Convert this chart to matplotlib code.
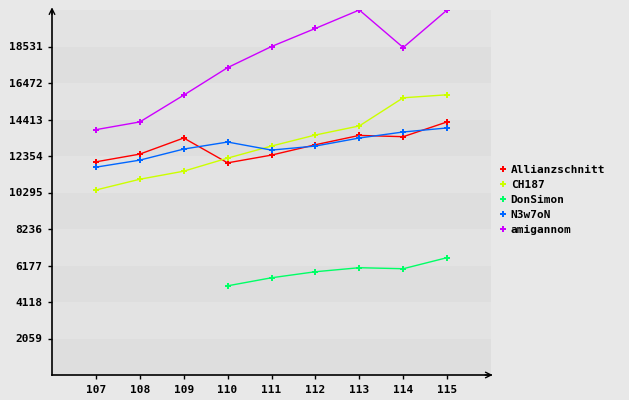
import matplotlib.pyplot as plt
from matplotlib.lines import Line2D

years = [107, 108, 109, 110, 111, 112, 113, 114, 115]
allianz = [12025, 12461, 13369, 11968, 12405, 12989, 13516, 13443, 14276]
ch187 = [10436, 11043, 11497, 12234, 12915, 13539, 14050, 15638, 15808]
donsimon_years = [110, 111, 112, 113, 114, 115]
donsimon = [5031, 5485, 5825, 6052, 5995, 6619]
n3w7on = [11724, 12121, 12745, 13142, 12688, 12915, 13369, 13709, 13936]
amigannom = [13840, 14276, 15786, 17339, 18530, 19551, 20590, 18474, 20590]

yticks = [2059, 4118, 6177, 8236, 10295, 12354, 14413, 16472, 18531]
ymax = 20590

series = [
    ("Allianzschnitt", years, allianz, "#ff0000"),
    ("CH187", years, ch187, "#ccff00"),
    ("DonSimon", donsimon_years, donsimon, "#00ff66"),
    ("N3w7oN", years, n3w7on, "#0066ff"),
    ("amigannom", years, amigannom, "#cc00ff"),
]

font = {'family': 'DejaVu Sans Mono', 'weight': 'bold', 'size': 8}

fig = plt.figure(figsize=(6.29, 4.00), dpi=100, facecolor="#e8e8e8")
ax = fig.add_axes([52 / 629, 25 / 400, 439 / 629, 365 / 400])
ax.set_facecolor("#e8e8e8")

# alternating bands
edges = [0] + yticks + [ymax]
for i in range(len(edges) - 1):
    c = "#dedede" if i % 2 == 0 else "#e3e3e3"
    ax.axhspan(edges[i], edges[i + 1], color=c, lw=0, zorder=0)

for name, xs, ys, col in series:
    ax.plot(xs, ys, color=col, lw=1, marker='P', markersize=5,
            markeredgewidth=0, zorder=3)

ax.set_xlim(106, 116)
ax.set_ylim(0, ymax)
ax.set_xticks(years)
ax.set_xticklabels([str(y) for y in years], fontdict=font)
ax.set_yticks(yticks)
ax.set_yticklabels([str(v) for v in yticks], fontdict=font)
ax.tick_params(length=3, width=1, color='black', pad=4)

for s in ['top', 'right']:
    ax.spines[s].set_visible(False)
for s in ['left', 'bottom']:
    ax.spines[s].set_color('black')
    ax.spines[s].set_linewidth(1.2)

# axis arrows
ax.annotate('', xy=(0, 1.015), xytext=(0, 0.98), xycoords='axes fraction',
            arrowprops=dict(arrowstyle='->', lw=1, color='black'))
ax.annotate('', xy=(1.01, 0), xytext=(0.98, 0), xycoords='axes fraction',
            arrowprops=dict(arrowstyle='->', lw=1, color='black'))

handles = [Line2D([], [], color=col, marker='P', markersize=5,
                  markeredgewidth=0, linestyle='none')
           for name, xs, ys, col in series]
labels = [name for name, xs, ys, col in series]
fig.legend(handles, labels, loc='upper left', bbox_to_anchor=(494 / 629, 1 - 159 / 400),
           frameon=False, prop={'family': 'DejaVu Sans Mono', 'weight': 'bold', 'size': 8},
           handlelength=0.6, handletextpad=0.4, labelspacing=0.45, borderpad=0)

fig.savefig("out.png", dpi=100, facecolor=fig.get_facecolor())
